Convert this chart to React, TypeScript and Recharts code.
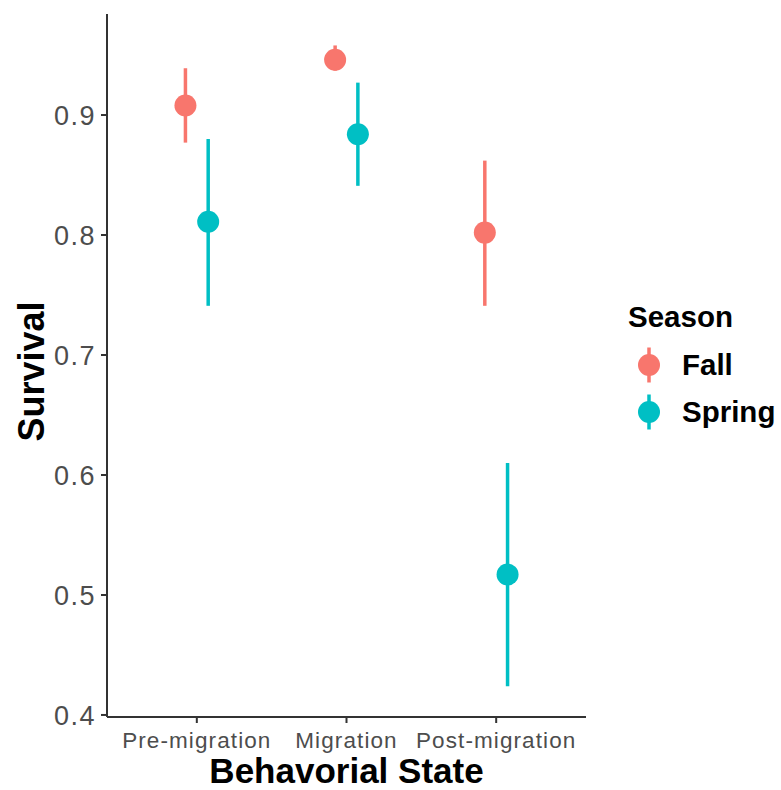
import {
  ScatterChart,
  Scatter,
  XAxis,
  YAxis,
  ErrorBar,
  Label,
} from "recharts";

const states = ["Pre-migration", "Migration", "Post-migration"];
const seasons = ["Fall", "Spring"];
const colors = ["#F8766D", "#00BFC4"];

const fallMean = [0.908, 0.946, 0.802];
const fallLow = [0.877, 0.937, 0.741];
const fallHigh = [0.939, 0.958, 0.862];

const springMean = [0.811, 0.884, 0.517];
const springLow = [0.741, 0.841, 0.424];
const springHigh = [0.88, 0.927, 0.61];

const yTicks = [0.4, 0.5, 0.6, 0.7, 0.8, 0.9];

// position_dodge offset, in category units
const DODGE = 0.076;

function buildRows(mean: number[], low: number[], high: number[], shift: number) {
  return states.map((s, i) => ({
    state: s,
    x: i + 1 + shift,
    y: mean[i],
    err: [mean[i] - low[i], high[i] - mean[i]],
  }));
}

const fallRows = buildRows(fallMean, fallLow, fallHigh, -DODGE);
const springRows = buildRows(springMean, springLow, springHigh, DODGE);

const FONT = "'Liberation Sans', Arial, Helvetica, sans-serif";
const AXIS = "#333333";

function Dot(color: string) {
  return (props: any) => (
    <circle cx={props.cx} cy={props.cy} r={11} fill={color} />
  );
}

function Legend() {
  return (
    <svg
      width={181}
      height={150}
      style={{ position: "absolute", left: 600, top: 290 }}
    >
      <text x={28} y={37} fontFamily={FONT} fontWeight="bold" fontSize={29.5} fill="#000">
        Season
      </text>
      {seasons.map((s, i) => {
        const cy = 75 + i * 47;
        return (
          <g key={s}>
            <line x1={49} x2={49} y1={cy - 17.5} y2={cy + 17.5} stroke={colors[i]} strokeWidth={3.5} />
            <circle cx={49} cy={cy} r={11} fill={colors[i]} />
            <text x={82} y={cy + 10} fontFamily={FONT} fontWeight="bold" fontSize={29.5} fill="#000">
              {s}
            </text>
          </g>
        );
      })}
    </svg>
  );
}

export default function App() {
  return (
    <div
      style={{
        position: "absolute",
        left: 0,
        top: 0,
        width: 781,
        height: 790,
        background: "#fff",
      }}
    >
      <ScatterChart
        width={781}
        height={790}
        margin={{ top: 14, right: 195, bottom: 0, left: 0 }}
      >
        <XAxis
          type="number"
          dataKey="x"
          domain={[0.4, 3.6]}
          ticks={[1, 2, 3]}
          allowDataOverflow
          tickFormatter={(v: number) => states[Math.round(v) - 1]}
          height={73}
          stroke={AXIS}
          strokeWidth={2}
          tickSize={6}
          tickMargin={9}
          tickLine={{ stroke: AXIS, strokeWidth: 2 }}
          tick={{
            fontSize: 22.5,
            fill: "#4D4D4D",
            fontFamily: FONT,
            style: { letterSpacing: "1.1px" },
          }}
        >
          <Label
            content={(p: any) => {
              const vb = p.viewBox;
              return (
                <text
                  x={vb.x + vb.width / 2}
                  y={vb.y + 66}
                  textAnchor="middle"
                  fontFamily={FONT}
                  fontWeight="bold"
                  fontSize={35}
                  fill="#000"
                >
                  Behavorial State
                </text>
              );
            }}
          />
        </XAxis>
        <YAxis
          type="number"
          dataKey="y"
          domain={[0.3983, 0.9842]}
          ticks={yTicks}
          allowDataOverflow
          tickFormatter={(v: number) => v.toFixed(1)}
          width={107}
          stroke={AXIS}
          strokeWidth={2}
          tickSize={6}
          tickMargin={5}
          tickLine={{ stroke: AXIS, strokeWidth: 2 }}
          tick={{
            fontSize: 27,
            fill: "#4D4D4D",
            fontFamily: FONT,
            style: { letterSpacing: "1.5px" },
          }}
        >
          <Label
            content={(p: any) => {
              const vb = p.viewBox;
              const cx = 44;
              const cy = vb.y + vb.height / 2 + 6;
              return (
                <text
                  x={cx}
                  y={cy}
                  textAnchor="middle"
                  transform={`rotate(-90, ${cx}, ${cy})`}
                  fontFamily={FONT}
                  fontWeight="bold"
                  fontSize={36}
                  fill="#000"
                >
                  Survival
                </text>
              );
            }}
          />
        </YAxis>
        <Scatter
          name="Fall"
          data={fallRows}
          fill={colors[0]}
          shape={Dot(colors[0])}
          isAnimationActive={false}
        >
          <ErrorBar
            dataKey="err"
            direction="y"
            width={0}
            stroke={colors[0]}
            strokeWidth={3.5}
            isAnimationActive={false}
          />
        </Scatter>
        <Scatter
          name="Spring"
          data={springRows}
          fill={colors[1]}
          shape={Dot(colors[1])}
          isAnimationActive={false}
        >
          <ErrorBar
            dataKey="err"
            direction="y"
            width={0}
            stroke={colors[1]}
            strokeWidth={3.5}
            isAnimationActive={false}
          />
        </Scatter>
      </ScatterChart>
      <Legend />
    </div>
  );
}
